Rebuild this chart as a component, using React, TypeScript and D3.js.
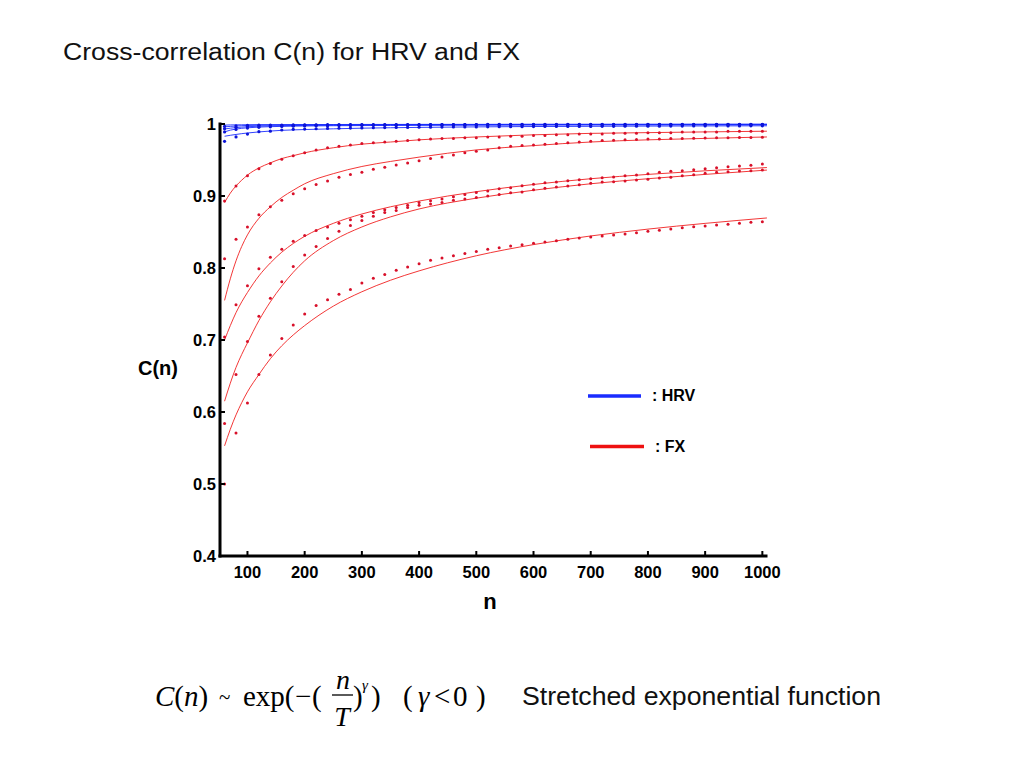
import React from 'react';
import * as d3 from 'd3';

// sample positions (n) of the measured points
const N_DOTS = [60,80,100,120,140,160,180,200,220,240,260,280,300,320,340,360,380,400,420,440,460,480,500,520,540,560,580,600,620,640,660,680,700,720,740,760,780,800,820,840,860,880,900,920,940,960,980,1000];
// sample positions (n)
const LINE_N = [60,70,80,90,100,120,140,160,180,200,250,300,350,400,500,600,700,800,900,1008];

// FX measured C(n)
const FX1_DOTS = [0.893,0.914,0.928,0.938,0.945,0.951,0.956,0.960,0.964,0.967,0.969,0.971,0.973,0.974,0.975,0.976,0.977,0.978,0.979,0.980,0.980,0.981,0.981,0.982,0.982,0.983,0.983,0.984,0.984,0.985,0.985,0.986,0.986,0.986,0.987,0.987,0.987,0.988,0.988,0.988,0.989,0.989,0.989,0.989,0.990,0.990,0.990,0.990];
const FX2_DOTS = [0.813,0.840,0.857,0.874,0.885,0.894,0.903,0.910,0.916,0.921,0.926,0.930,0.933,0.937,0.940,0.943,0.946,0.949,0.952,0.954,0.957,0.960,0.962,0.964,0.967,0.969,0.970,0.971,0.972,0.973,0.974,0.975,0.976,0.977,0.9775,0.978,0.9785,0.979,0.9793,0.9797,0.980,0.9803,0.9806,0.9808,0.981,0.9812,0.9814,0.9816];
const FX3_DOTS = [0.704,0.749,0.7755,0.799,0.815,0.826,0.837,0.845,0.852,0.857,0.862,0.867,0.872,0.877,0.881,0.884,0.887,0.891,0.8935,0.896,0.899,0.902,0.905,0.907,0.910,0.9116,0.9144,0.9162,0.9185,0.9194,0.9213,0.9227,0.9241,0.9255,0.9264,0.9282,0.9292,0.931,0.9329,0.9343,0.9352,0.9366,0.938,0.9394,0.9407,0.9417,0.9426,0.9444];
const FX4_DOTS = [0.584,0.652,0.698,0.733,0.758,0.781,0.802,0.818,0.830,0.841,0.851,0.859,0.866,0.872,0.877,0.880,0.884,0.887,0.889,0.891,0.894,0.896,0.898,0.900,0.902,0.9046,0.9056,0.9088,0.9106,0.9125,0.9139,0.9157,0.9176,0.9194,0.9199,0.9208,0.9222,0.9231,0.925,0.9259,0.9282,0.9296,0.9315,0.9329,0.9338,0.9347,0.9352,0.9361];
const FX5_DOTS = [0.500,0.571,0.6125,0.652,0.679,0.702,0.721,0.736,0.748,0.756,0.7635,0.770,0.779,0.7856,0.791,0.797,0.8014,0.806,0.8106,0.814,0.817,0.820,0.823,0.826,0.8282,0.8306,0.8324,0.8343,0.8361,0.838,0.8398,0.8417,0.8431,0.8444,0.8458,0.8472,0.849,0.8509,0.8523,0.8542,0.856,0.8574,0.8583,0.8597,0.8606,0.862,0.8634,0.8643];

// FX fitted curves
const FX1_LINE = [0.891,0.904,0.914,0.922,0.929,0.939,0.946,0.952,0.956,0.960,0.967,0.972,0.975,0.978,0.982,0.985,0.987,0.988,0.989,0.990];
const FX2_LINE = [0.755,0.785,0.810,0.830,0.846,0.869,0.885,0.898,0.908,0.917,0.931,0.941,0.948,0.954,0.964,0.970,0.975,0.978,0.980,0.982];
const FX3_LINE = [0.700,0.720,0.738,0.753,0.766,0.789,0.807,0.822,0.834,0.844,0.862,0.875,0.885,0.893,0.906,0.916,0.924,0.930,0.935,0.9395];
const FX4_LINE = [0.615,0.640,0.662,0.680,0.696,0.727,0.753,0.775,0.794,0.810,0.838,0.857,0.871,0.882,0.897,0.908,0.917,0.924,0.930,0.936];
const FX5_LINE = [0.553,0.576,0.596,0.613,0.628,0.652,0.674,0.692,0.707,0.720,0.747,0.767,0.783,0.796,0.817,0.8325,0.8445,0.854,0.862,0.8695];

// HRV measured C(n)
const HRV1_DOTS = [0.9968,0.9976,0.998,0.9983,0.9985,0.9986,0.9987,0.9988,0.9989,0.999,0.999,0.9991,0.9991,0.9991,0.9992,0.9992,0.9992,0.9992,0.9993,0.9993,0.9993,0.9993,0.9993,0.9994,0.9994,0.9994,0.9994,0.9994,0.9994,0.9994,0.9994,0.9994,0.9995,0.9995,0.9995,0.9995,0.9995,0.9995,0.9995,0.9995,0.9996,0.9996,0.9996,0.9996,0.9996,0.9996,0.9996,0.9996];
const HRV2_DOTS = [0.9935,0.9955,0.9966,0.9972,0.9976,0.9979,0.9981,0.9983,0.9984,0.9985,0.9986,0.9987,0.9987,0.9988,0.9988,0.9989,0.9989,0.9989,0.999,0.999,0.999,0.999,0.9991,0.9991,0.9991,0.9991,0.9991,0.9991,0.9991,0.9991,0.9992,0.9992,0.9992,0.9992,0.9992,0.9992,0.9992,0.9992,0.9992,0.9992,0.9992,0.9992,0.9993,0.9993,0.9993,0.9993,0.9993,0.9993];
const HRV3_DOTS = [0.989,0.9925,0.9943,0.9954,0.9961,0.9966,0.997,0.9973,0.9975,0.9977,0.9978,0.998,0.9981,0.9982,0.9983,0.9983,0.9984,0.9985,0.9985,0.9986,0.9986,0.9987,0.9987,0.9987,0.9988,0.9988,0.9988,0.9988,0.9988,0.9988,0.9989,0.9989,0.9989,0.9989,0.9989,0.9989,0.999,0.999,0.999,0.999,0.999,0.999,0.999,0.999,0.999,0.999,0.999,0.999];
const HRV4_DOTS = [0.976,0.982,0.986,0.9894,0.990,0.9917,0.9926,0.993,0.9934,0.9938,0.9941,0.9944,0.9946,0.9948,0.995,0.9952,0.9953,0.9955,0.9956,0.9957,0.9958,0.9959,0.996,0.9961,0.9962,0.9963,0.9963,0.9964,0.9965,0.9965,0.9966,0.9967,0.9967,0.9968,0.9968,0.9969,0.9969,0.997,0.997,0.9971,0.9971,0.9972,0.9972,0.9972,0.9973,0.9973,0.9974,0.9974];

// HRV fitted curves
const HRV1_LINE = [0.9985,0.9987,0.9988,0.9989,0.999,0.9991,0.9991,0.9992,0.9992,0.9993,0.9993,0.9994,0.9994,0.9995,0.9995,0.9996,0.9996,0.9996,0.9997,0.9997];
const HRV2_LINE = [0.996,0.9967,0.9972,0.9976,0.998,0.9983,0.9985,0.9986,0.9987,0.9988,0.999,0.9991,0.9992,0.9992,0.9993,0.9994,0.9994,0.9995,0.9995,0.9995];
const HRV3_LINE = [0.993,0.9942,0.995,0.9957,0.9962,0.997,0.9974,0.9977,0.9979,0.998,0.9983,0.9985,0.9987,0.9988,0.9989,0.999,0.9991,0.9991,0.9992,0.9992];
const HRV4_LINE = [0.989,0.9915,0.993,0.994,0.9947,0.9957,0.9963,0.9967,0.997,0.9972,0.9976,0.9978,0.998,0.9982,0.9984,0.9986,0.9987,0.9988,0.9988,0.9989];
const HRV5_LINE = [0.983,0.9843,0.9855,0.9866,0.9875,0.989,0.9902,0.9912,0.9918,0.9923,0.9933,0.9942,0.9948,0.9953,0.996,0.9965,0.9968,0.9971,0.9973,0.9975];

const X_TICKS = [100,200,300,400,500,600,700,800,900,1000];
const Y_TICKS = [0.4,0.5,0.6,0.7,0.8,0.9,1];
const Y_TICK_LABELS = ['0.4','0.5','0.6','0.7','0.8','0.9','1'];

const FX_DOTS = [FX1_DOTS, FX2_DOTS, FX3_DOTS, FX4_DOTS, FX5_DOTS];
const FX_LINES = [FX1_LINE, FX2_LINE, FX3_LINE, FX4_LINE, FX5_LINE];
const HRV_DOTS = [HRV1_DOTS, HRV2_DOTS, HRV3_DOTS, HRV4_DOTS];
const HRV_LINES = [HRV1_LINE, HRV2_LINE, HRV3_LINE, HRV4_LINE, HRV5_LINE];

const RED_LINE = '#f02020';
const RED_DOT = '#d8102a';
const BLUE_LINE = '#1a2cff';
const BLUE_DOT = '#0c14d8';

export default function App() {
  const x = d3.scaleLinear().domain([52, 1009]).range([220, 767.5]);
  const y = d3.scaleLinear().domain([0.4, 1]).range([556, 124]);
  const line = d3.line<number>()
    .x((_, i) => x(LINE_N[i]))
    .y((d) => y(d))
    .curve(d3.curveMonotoneX);

  const boldFont = "'Liberation Sans', Arial, sans-serif";
  const serif = "'Liberation Serif', 'Times New Roman', serif";
  const sans = "'Liberation Sans', Arial, sans-serif";

  return (
    <svg width={1024} height={768} style={{ position: 'absolute', left: 0, top: 0, background: '#fff' }}>
      <rect x={0} y={0} width={1024} height={768} fill="#fff" />
      <text x={63} y={60} fontFamily={sans} fontSize={23} textLength={457} lengthAdjust="spacingAndGlyphs" fill="#111">
        Cross-correlation C(n) for HRV and FX
      </text>

      {/* fitted curves */}
      {HRV_LINES.map((s, i) => (
        <path key={'hl' + i} d={line(s) || ''} fill="none" stroke={BLUE_LINE} strokeWidth={0.9} />
      ))}
      {FX_LINES.map((s, i) => (
        <path key={'fl' + i} d={line(s) || ''} fill="none" stroke={RED_LINE} strokeWidth={0.9} />
      ))}

      {/* measured points */}
      {HRV_DOTS.map((s, i) => s.map((v, j) => (
        <circle key={'hd' + i + '-' + j} cx={x(N_DOTS[j])} cy={y(v)} r={1.6} fill={BLUE_DOT} />
      )))}
      {FX_DOTS.map((s, i) => s.map((v, j) => (
        <circle key={'fd' + i + '-' + j} cx={x(N_DOTS[j])} cy={y(v)} r={1.5} fill={RED_DOT} />
      )))}

      {/* axes */}
      <line x1={x.range()[0]} x2={x.range()[0]} y1={y.range()[1] - 1.5} y2={y.range()[0] + 1.5} stroke="#000" strokeWidth={3} />
      <line x1={x.range()[0] - 1.5} x2={x.range()[1]} y1={y.range()[0]} y2={y.range()[0]} stroke="#000" strokeWidth={3} />
      {X_TICKS.map((t) => (
        <g key={'xt' + t}>
          <line x1={x(t)} x2={x(t)} y1={y.range()[0]} y2={y.range()[0] - 5} stroke="#000" strokeWidth={2} />
          <text x={x(t)} y={578} textAnchor="middle" fontFamily={boldFont} fontWeight="bold" fontSize={16.5} fill="#000">{t}</text>
        </g>
      ))}
      {Y_TICKS.map((t, i) => (
        <g key={'yt' + t}>
          <line x1={x.range()[0]} x2={x.range()[0] + 5} y1={y(t)} y2={y(t)} stroke="#000" strokeWidth={2} />
          <text x={216} y={y(t) + 6} textAnchor="end" fontFamily={boldFont} fontWeight="bold" fontSize={16.5} fill="#000">{Y_TICK_LABELS[i]}</text>
        </g>
      ))}
      <text x={490} y={609} textAnchor="middle" fontFamily={boldFont} fontWeight="bold" fontSize={22} fill="#000">n</text>
      <text x={158} y={375} textAnchor="middle" fontFamily={boldFont} fontWeight="bold" fontSize={20} fill="#000">C(n)</text>

      {/* legend */}
      <line x1={588} x2={641} y1={396} y2={396} stroke={BLUE_LINE} strokeWidth={3.5} />
      <text x={652} y={401} fontFamily={boldFont} fontWeight="bold" fontSize={16} fill="#000">: HRV</text>
      <line x1={590} x2={644} y1={446.5} y2={446.5} stroke="#ee1111" strokeWidth={3.5} />
      <text x={655} y={452} fontFamily={boldFont} fontWeight="bold" fontSize={16} fill="#000">: FX</text>

      {/* formula */}
      <g fontFamily={serif} fill="#000">
        <text x={155} y={706} fontSize={29}>
          <tspan fontStyle="italic">C</tspan>(<tspan fontStyle="italic">n</tspan>)
        </text>
        <text x={219} y={704} fontSize={21}>~</text>
        <text x={243} y={706} fontSize={29}>exp(</text>
        <text x={295} y={706} fontSize={29}>−</text>
        <text x={312} y={706} fontSize={29}>(</text>
        <text x={343} y={689} fontSize={28} fontStyle="italic" textAnchor="middle">n</text>
        <line x1={332} x2={353} y1={695} y2={695} stroke="#000" strokeWidth={1.3} />
        <text x={342} y={726} fontSize={28} fontStyle="italic" textAnchor="middle">T</text>
        <text x={353} y={706} fontSize={29}>)</text>
        <text x={362} y={690} fontSize={15} fontStyle="italic">γ</text>
        <text x={371} y={706} fontSize={29}>)</text>
        <text x={403} y={706} fontSize={29}>(</text>
        <text x={418} y={706} fontSize={29} fontStyle="italic">γ</text>
        <text x={434} y={706} fontSize={29}>&lt;</text>
        <text x={453} y={706} fontSize={29}>0</text>
        <text x={476} y={706} fontSize={29}>)</text>
      </g>
      <text x={522} y={705} fontFamily={sans} fontSize={25} textLength={359} lengthAdjust="spacingAndGlyphs" fill="#111">
        Stretched exponential function
      </text>
    </svg>
  );
}
